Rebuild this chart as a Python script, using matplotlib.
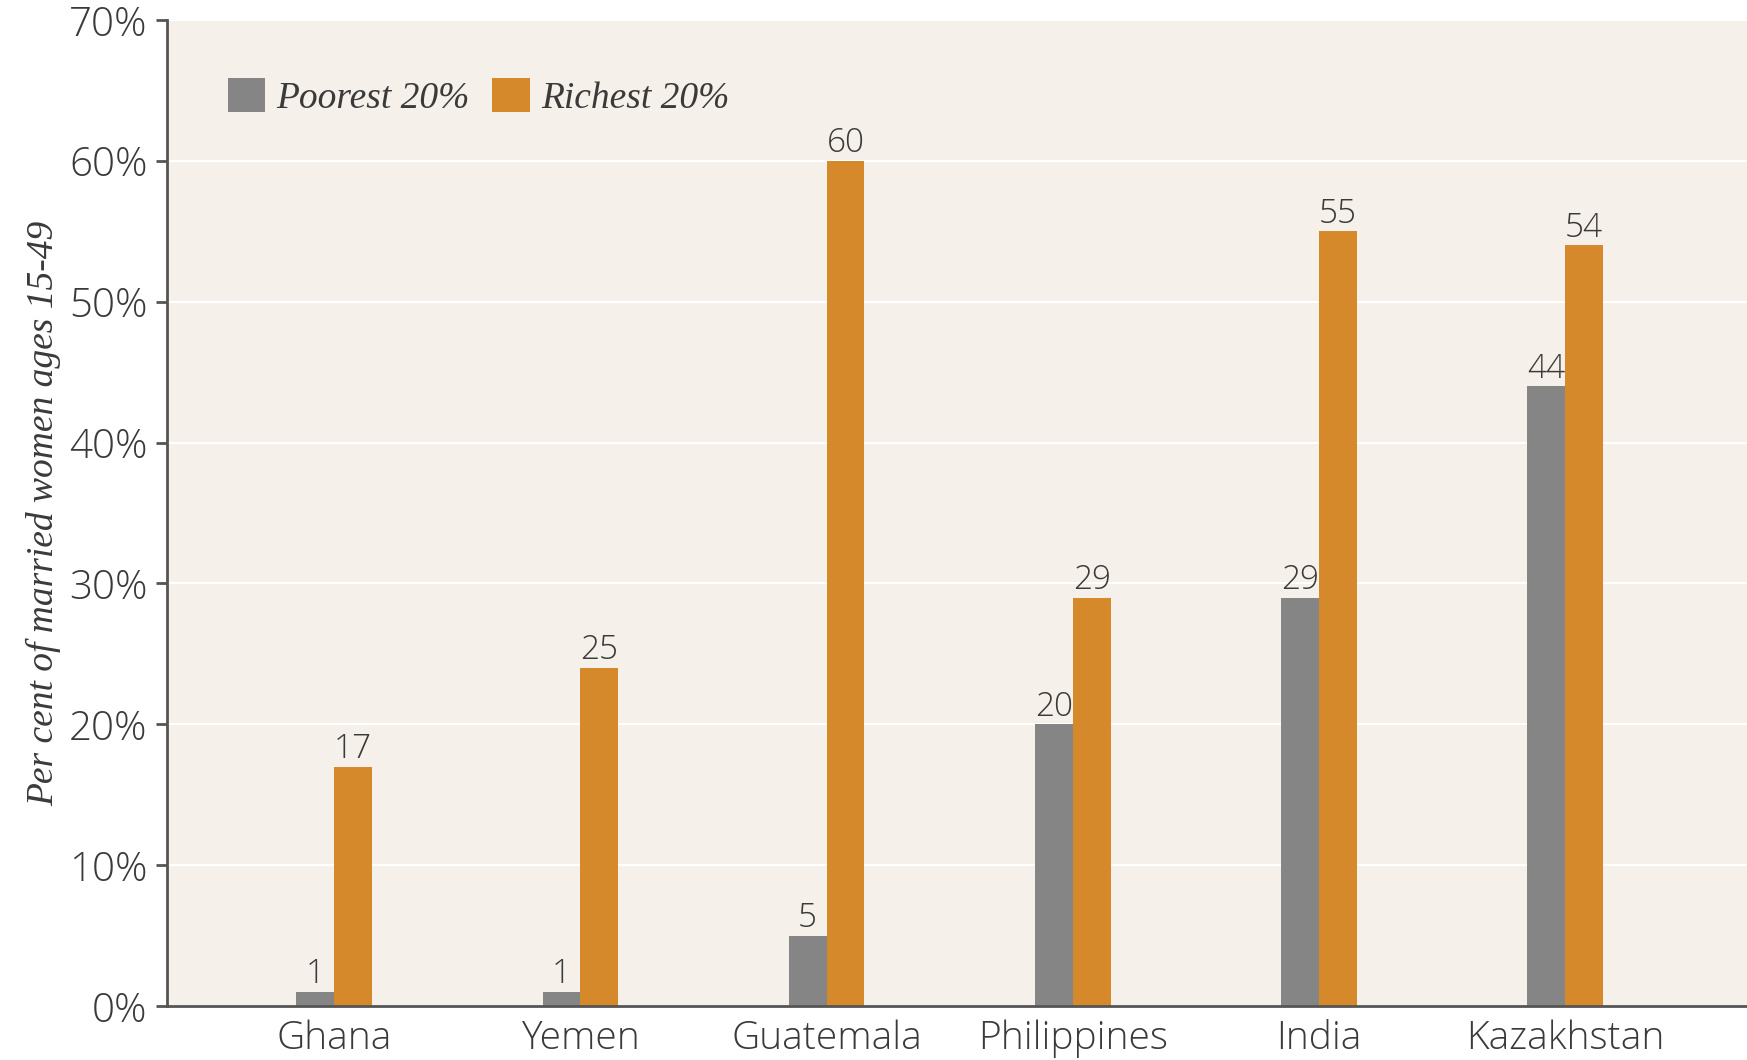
import matplotlib.pyplot as plt
import numpy as np
from matplotlib.patches import Patch

# 데이터
countries = ['Ghana', 'Yemen', 'Guatemala', 'Philippines', 'India', 'Kazakhstan']
poorest = [1, 1, 5, 20, 29, 44]
richest = [17, 24, 60, 29, 55, 54]
poorest_labels = ['1', '1', '5', '20', '29', '44']
richest_labels = ['17', '25', '60', '29', '55', '54']
y_ticks = [0, 10, 20, 30, 40, 50, 60, 70]

gray = '#858585'
orange = '#D6892A'
bg = '#F5F1EA'
text_col = '#3a3a3a'

sans = ['Open Sans', 'DejaVu Sans']
serif = ['Liberation Serif', 'DejaVu Serif']

fig = plt.figure(figsize=(17.47, 10.60), dpi=100)
ax = fig.add_axes([0.0956, 0.0509, 0.9044, 0.9302])
ax.set_facecolor(bg)

x = np.arange(len(countries))
w = 0.154
b1 = ax.bar(x - w / 2, poorest, w, color=gray, zorder=3)
b2 = ax.bar(x + w / 2, richest, w, color=orange, zorder=3)

# 막대 위 값
for rect, lab in zip(b1, poorest_labels):
    ax.text(rect.get_x() + rect.get_width() / 2, rect.get_height() + 0.05, lab,
            ha='center', va='bottom', fontsize=24, color=text_col,
            family=sans, weight='light')
for rect, lab in zip(b2, richest_labels):
    ax.text(rect.get_x() + rect.get_width() / 2, rect.get_height() + 0.05, lab,
            ha='center', va='bottom', fontsize=24, color=text_col,
            family=sans, weight='light')

ax.set_xlim(-0.68, 5.74)
ax.set_ylim(0, 70)
ax.set_yticks(y_ticks)
ax.set_yticklabels([f'{v}%' for v in y_ticks])
ax.set_xticks(x)
ax.set_xticklabels(countries)

for lab in ax.get_yticklabels():
    lab.set_family(sans)
    lab.set_weight('light')
    lab.set_fontsize(29)
    lab.set_color(text_col)
for lab in ax.get_xticklabels():
    lab.set_family(sans)
    lab.set_weight('light')
    lab.set_fontsize(28)
    lab.set_color(text_col)

ax.tick_params(axis='y', length=8, width=2, color='#555555', pad=6)
ax.tick_params(axis='x', length=0, pad=10)

# 그리드
ax.yaxis.grid(True, color='white', linewidth=1.5, zorder=0)
ax.set_axisbelow(True)

for s in ['top', 'right']:
    ax.spines[s].set_visible(False)
for s in ['left', 'bottom']:
    ax.spines[s].set_color('#555555')
    ax.spines[s].set_linewidth(2)
ax.spines['bottom'].set_zorder(4)

ax.set_ylabel('Per cent of married women ages 15-49', family=serif, style='italic',
              fontsize=27, color=text_col, labelpad=6)

handles = [Patch(facecolor=gray, label='Poorest 20%'),
           Patch(facecolor=orange, label='Richest 20%')]
ax.legend(handles=handles, loc='upper left', bbox_to_anchor=(0.017, 0.975), ncol=2,
          frameon=False, handlelength=1.0, handleheight=1.0, handletextpad=0.3,
          columnspacing=0.6, prop={'family': serif, 'style': 'italic', 'size': 27},
          labelcolor=text_col)

plt.savefig('out.png', dpi=100, facecolor='white')
